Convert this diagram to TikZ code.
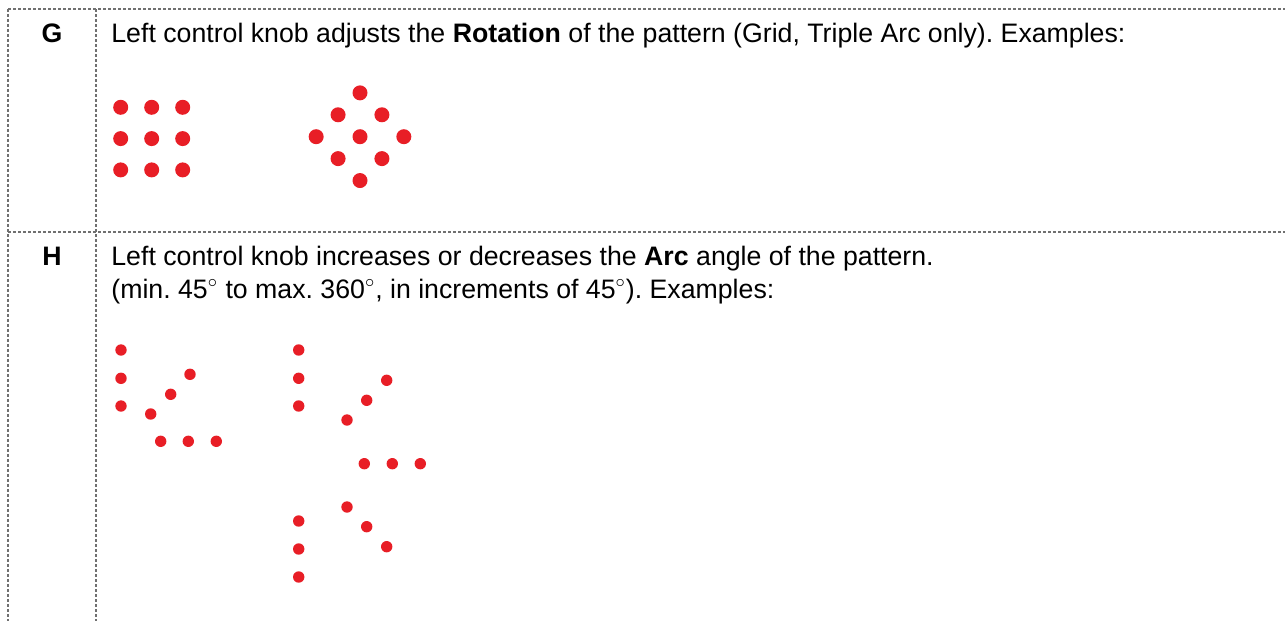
\documentclass[tikz,border=0pt]{standalone}
\usepackage{fontspec}
\setmainfont{Liberation Sans}
\usepackage{tikz}
\frenchspacing
\definecolor{dotred}{RGB}{232,30,38}
\definecolor{rulegray}{RGB}{112,112,112}
\tikzset{
  rule/.style={
    draw=rulegray,
    line width=0.6pt,
    dash pattern=on 1.5pt off 1pt
  },
  rowkey/.style={
    anchor=base,
    inner sep=0pt,
    font=\fontsize{13.35pt}{16pt}\selectfont\bfseries
  },
  rowtext/.style={
    anchor=base west,
    inner sep=0pt,
    font=\fontsize{13.35pt}{16pt}\selectfont
  },
  bigdot/.style={fill=dotred},
  smalldot/.style={fill=dotred}
}

\begin{document}
\begin{tikzpicture}[x=0.5pt,y=-0.5pt]
  \useasboundingbox (0,0) rectangle (1285,621);
  \draw[rule] (8,9) -- (1285,9);
  \draw[rule] (8,232) -- (1285,232);
  \draw[rule] (8,9) -- (8,621);
  \draw[rule] (96,9) -- (96,621);

  \node[rowkey] (keyG) at (52,42.7) {G};
  \node[rowtext] (textG) at (111,42.7)
    {Left control knob adjusts the \textbf{Rotation} of the pattern (Grid, Triple Arc only). Examples:};

  \foreach \i in {0,1,2}
    \foreach \j in {0,1,2}
      \fill[bigdot] (120.7+31*\i,107.3+31.3*\j) circle (3.75pt);
  \begin{scope}[shift={(360,136.7)},rotate=45]
    \foreach \i in {-1,0,1}
      \foreach \j in {-1,0,1}
        \fill[bigdot] (31*\i,31*\j) circle (3.75pt);
  \end{scope}

  \node[rowkey] (keyH) at (52,265.7) {H};
  \node[rowtext] (textH) at (111,265.7)
    {Left control knob increases or decreases the \textbf{Arc} angle of the pattern.};
  \node[rowtext] (textH2) at (111,298.3)
    {(min. 45$^\circ$ to max. 360$^\circ$, in increments of 45$^\circ$). Examples:};

  \foreach \p in {(121,350),(121,378.3),(121,406),
                  (150.7,414),(170.7,394.3),(190,374.3),
                  (160.7,441.3),(188.3,441.3),(216.3,441.3)}
    \fill[smalldot] \p circle (2.85pt);
  \foreach \p in {(298.7,350),(298.7,378.3),(298.7,406),
                  (347,420),(366.7,400.3),(386.7,380.3),
                  (364.3,463.7),(392.3,463.7),(420.3,463.7),
                  (347,507),(366.7,526.7),(386.7,546.7),
                  (298.7,521),(298.7,549),(298.7,577)}
    \fill[smalldot] \p circle (2.85pt);
\end{tikzpicture}
\end{document}
